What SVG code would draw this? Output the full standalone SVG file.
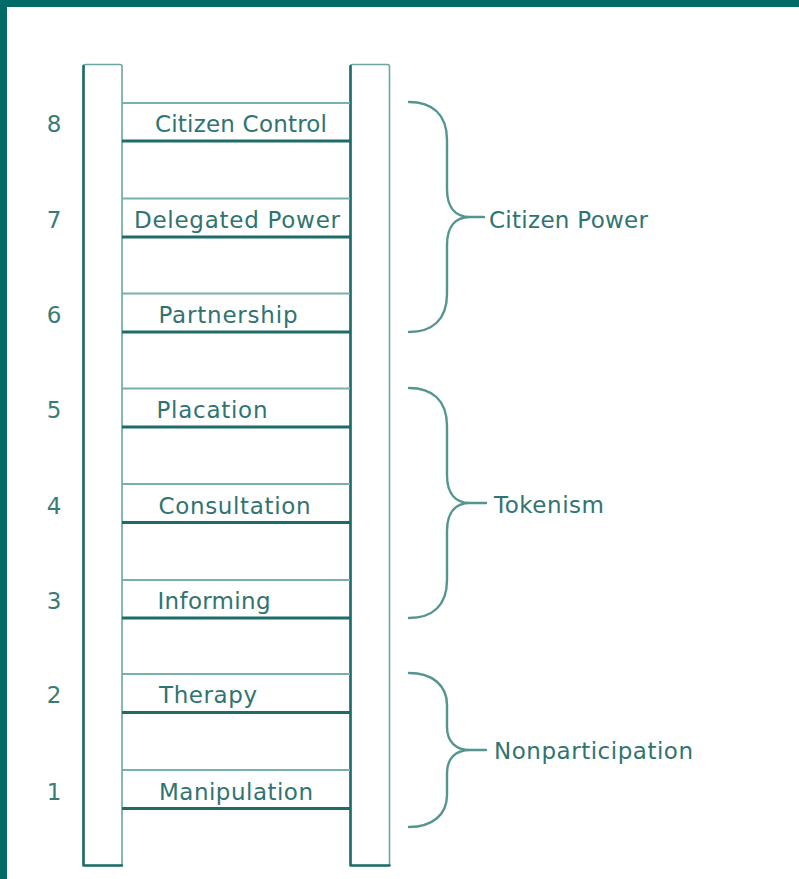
<svg xmlns="http://www.w3.org/2000/svg" width="799" height="879" viewBox="0 0 799 879">
<style>
.frame{fill:#016b68}
.rail{fill:#fff;stroke:#6aa7a3;stroke-width:1.6}
.railDark{fill:none;stroke:#1d6c68;stroke-width:2.6;stroke-linecap:round;stroke-linejoin:round}
.rungTop{stroke:#78b0ac;stroke-width:1.8}
.rungBot{stroke:#1d6c68;stroke-width:2.8}
.lbl{font-family:"DejaVu Sans",sans-serif;font-size:23px;fill:#2f7471}
.num{font-family:"DejaVu Sans",sans-serif;font-size:23px;fill:#3a7b78;text-anchor:middle}
.brace{fill:none;stroke:#55958f;stroke-width:2.4;stroke-linecap:round}
</style>
<rect x="0" y="0" width="799" height="879" fill="#fff"/>
<rect class="frame" x="0" y="0" width="799" height="7"/>
<rect class="frame" x="0" y="0" width="7" height="879"/>

<g id="rails">
<rect class="rail" x="83.5" y="64.5" width="38.5" height="801" rx="2"/>
<path class="railDark" d="M83.5,66 L83.5,865.5 L122,865.5"/>
<rect class="rail" x="350.5" y="64.5" width="39" height="801" rx="2"/>
<path class="railDark" d="M350.5,66 L350.5,865.5 L389.5,865.5"/>
</g>

<g id="rung8"><line class="rungTop" x1="122" y1="103" x2="350" y2="103"/><line class="rungBot" x1="122" y1="141" x2="350" y2="141"/><text class="num" x="54" y="132">8</text><text class="lbl" x="155" y="132" textLength="172" lengthAdjust="spacing">Citizen Control</text></g>
<g id="rung7"><line class="rungTop" x1="122" y1="198.5" x2="350" y2="198.5"/><line class="rungBot" x1="122" y1="237" x2="350" y2="237"/><text class="num" x="54" y="228">7</text><text class="lbl" x="134" y="228" textLength="206" lengthAdjust="spacing">Delegated Power</text></g>
<g id="rung6"><line class="rungTop" x1="122" y1="293.5" x2="350" y2="293.5"/><line class="rungBot" x1="122" y1="332" x2="350" y2="332"/><text class="num" x="54" y="323">6</text><text class="lbl" x="158.5" y="323" textLength="139" lengthAdjust="spacing">Partnership</text></g>
<g id="rung5"><line class="rungTop" x1="122" y1="388.5" x2="350" y2="388.5"/><line class="rungBot" x1="122" y1="427" x2="350" y2="427"/><text class="num" x="54" y="418">5</text><text class="lbl" x="156.5" y="418" textLength="111" lengthAdjust="spacing">Placation</text></g>
<g id="rung4"><line class="rungTop" x1="122" y1="484" x2="350" y2="484"/><line class="rungBot" x1="122" y1="522.5" x2="350" y2="522.5"/><text class="num" x="54" y="513.5">4</text><text class="lbl" x="158.5" y="514" textLength="152" lengthAdjust="spacing">Consultation</text></g>
<g id="rung3"><line class="rungTop" x1="122" y1="580" x2="350" y2="580"/><line class="rungBot" x1="122" y1="618" x2="350" y2="618"/><text class="num" x="54" y="609">3</text><text class="lbl" x="157.5" y="609" textLength="113" lengthAdjust="spacing">Informing</text></g>
<g id="rung2"><line class="rungTop" x1="122" y1="674" x2="350" y2="674"/><line class="rungBot" x1="122" y1="712.5" x2="350" y2="712.5"/><text class="num" x="54" y="703">2</text><text class="lbl" x="159" y="703" textLength="98" lengthAdjust="spacing">Therapy</text></g>
<g id="rung1"><line class="rungTop" x1="122" y1="770" x2="350" y2="770"/><line class="rungBot" x1="122" y1="808.5" x2="350" y2="808.5"/><text class="num" x="54" y="800">1</text><text class="lbl" x="159" y="799.5" textLength="154" lengthAdjust="spacing">Manipulation</text></g>

<g id="connectors">
<path class="brace" d="M409,102 C432,102 447,114 447,140 L447,189 C447,208 456,217 470,217 L484,217 M470,217 C456,217 447,226 447,245 L447,294 C447,320 432,332 409,332"/>
<path class="brace" d="M409,388 C432,388 447,400 447,426 L447,475 C447,494 456,503 470,503 L486,503 M470,503 C456,503 447,512 447,531 L447,580 C447,606 432,618 409,618"/>
<path class="brace" d="M409,673 C432,673 447,685 447,705 L447,727 C447,742 456,750 470,750 L486,750 M470,750 C456,750 447,758 447,773 L447,795 C447,815 432,827 409,827"/>
</g>

<g id="group-citizen-power"><text class="lbl" x="489" y="228" textLength="159" lengthAdjust="spacing">Citizen Power</text></g>
<g id="group-tokenism"><text class="lbl" x="494" y="513" textLength="110" lengthAdjust="spacing">Tokenism</text></g>
<g id="group-nonparticipation"><text class="lbl" x="494" y="759" textLength="199" lengthAdjust="spacing">Nonparticipation</text></g>
</svg>
